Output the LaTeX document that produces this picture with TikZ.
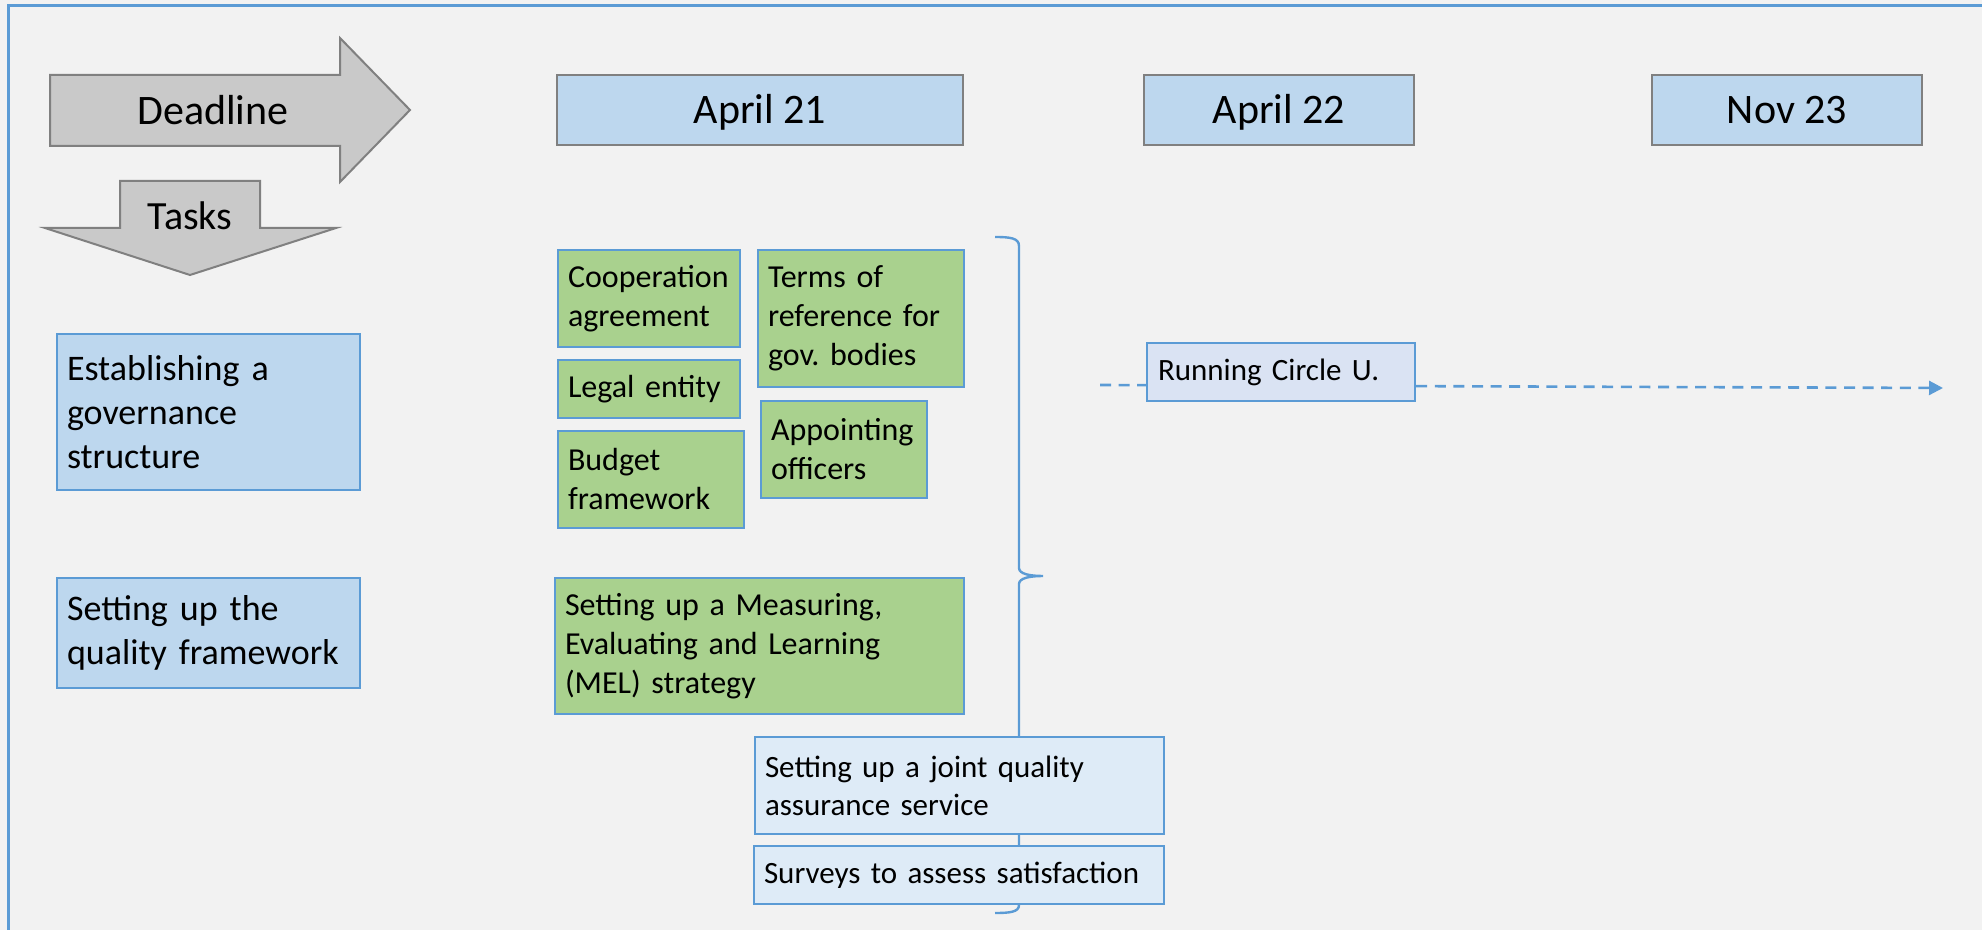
\documentclass[tikz,border=0pt]{standalone}
\usepackage{fontspec}
\setmainfont{Carlito}
\usetikzlibrary{arrows.meta}
\hyphenpenalty=10000 \exhyphenpenalty=10000
\frenchspacing
\definecolor{bgc}{HTML}{F2F2F2}
\definecolor{blueline}{HTML}{5B9BD5}
\definecolor{datefill}{HTML}{BDD7EE}
\definecolor{greyline}{HTML}{808080}
\definecolor{arrowfill}{HTML}{C9C9C9}
\definecolor{greenfill}{HTML}{A9D18E}
\definecolor{lightfill}{HTML}{DEEBF7}
\definecolor{runfill}{HTML}{DAE3F3}
\tikzset{
  box/.style={draw=blueline, line width=1pt, anchor=north west, align=left,
    inner xsep=5pt, inner ysep=0pt},
  task/.style={box, fill=datefill, font=\fontsize{18}{22}\selectfont},
  green/.style={box, fill=greenfill, font=\fontsize{16}{19.5}\selectfont},
  light/.style={box, fill=lightfill, font=\fontsize{15.5}{19}\selectfont},
  date/.style={draw=greyline, line width=1pt, fill=datefill, minimum height=35pt,
    font=\fontsize{21}{25}\selectfont, text height=19pt, text depth=5pt}
}
\begin{document}
\begin{tikzpicture}[x=.5pt,y=-.5pt]
\useasboundingbox (0,0) rectangle (1982,930);
\fill[bgc] (0,0) rectangle (1982,930);
\draw[blueline, line width=1.5pt] (8,930) -- (8,6) -- (1982,6);
% deadline and tasks arrows
\draw[greyline, fill=arrowfill, line width=1pt] (50,75) -- (340,75) -- (340,38) -- (410,110)
  -- (340,182) -- (340,146) -- (50,146) -- cycle;
\draw[greyline, fill=arrowfill, line width=1pt] (120,181) -- (260,181) -- (260,228) -- (336,228)
  -- (190,275) -- (45,228) -- (120,228) -- cycle;
\node[anchor=base, font=\fontsize{21}{25}\selectfont] (deadline) at (213,125) {Deadline};
\node[anchor=base, font=\fontsize{20}{24}\selectfont] (tasks) at (190,230) {Tasks};
% dates
\node[date, minimum width=203pt] (apr21) at (760,110) {April 21};
\node[date, minimum width=135pt] (apr22) at (1279,110) {April 22};
\node[date, minimum width=135pt] (nov23) at (1787,110) {Nov 23};
% tasks
\node[task, minimum width=151.5pt, text width=141.5pt, minimum height=78pt] (gov) at (56,333)
  {Establishing a\\governance\\structure};
\node[task, minimum width=151.5pt, text width=141.5pt, minimum height=55pt] (qual) at (56,577)
  {Setting up the\\quality framework};
% april 21 items
\node[green, minimum width=91pt, text width=81pt, minimum height=48.5pt] (coop) at (557,249)
  {Cooperation\\agreement};
\node[green, minimum width=103pt, text width=93pt, minimum height=68.5pt] (terms) at (757,249)
  {Terms of\\reference for\\gov. bodies};
\node[green, minimum width=91pt, text width=81pt, minimum height=29pt] (legal) at (557,359)
  {Legal entity};
\node[green, minimum width=93pt, text width=83pt, minimum height=48.5pt] (budget) at (557,430)
  {Budget\\framework};
\node[green, minimum width=83pt, text width=73pt, minimum height=48.5pt] (appoint) at (760,400)
  {Appointing\\officers};
\node[green, minimum width=204.5pt, text width=194.5pt, minimum height=68pt] (mel) at (554,577)
  {Setting up a Measuring,\\Evaluating and Learning\\(MEL) strategy};
% brace
\draw[blueline, line width=1.2pt] (995,237) .. controls (1010,237) and (1019,238) .. (1019,246)
  -- (1019,568) .. controls (1019,574) and (1030,576) .. (1043,576)
  .. controls (1030,576) and (1019,578) .. (1019,584) -- (1019,905)
  .. controls (1019,912) and (1010,913) .. (995,913);
\node[light, minimum width=204.5pt, text width=194.5pt, minimum height=48.5pt] (joint) at (754,736)
  {Setting up a joint quality\\assurance service};
\node[light, minimum width=205pt, text width=195pt, minimum height=29pt] (survey) at (753,845)
  {Surveys to assess satisfaction};
% running
\coordinate (runstart) at (1100,385);
\coordinate (runend) at (1943,388);
\draw[blueline, line width=1.3pt, dash pattern=on 5.5pt off 3.8pt, -{Triangle[length=7pt,width=7pt]}]
  (runstart) -- (runend);
\node[box, fill=runfill, inner xsep=5.5pt, minimum width=134pt, text width=123pt, minimum height=29pt,
  font=\fontsize{15.5}{19}\selectfont] (run) at (1146,342) {Running Circle U.};
\end{tikzpicture}
\end{document}
